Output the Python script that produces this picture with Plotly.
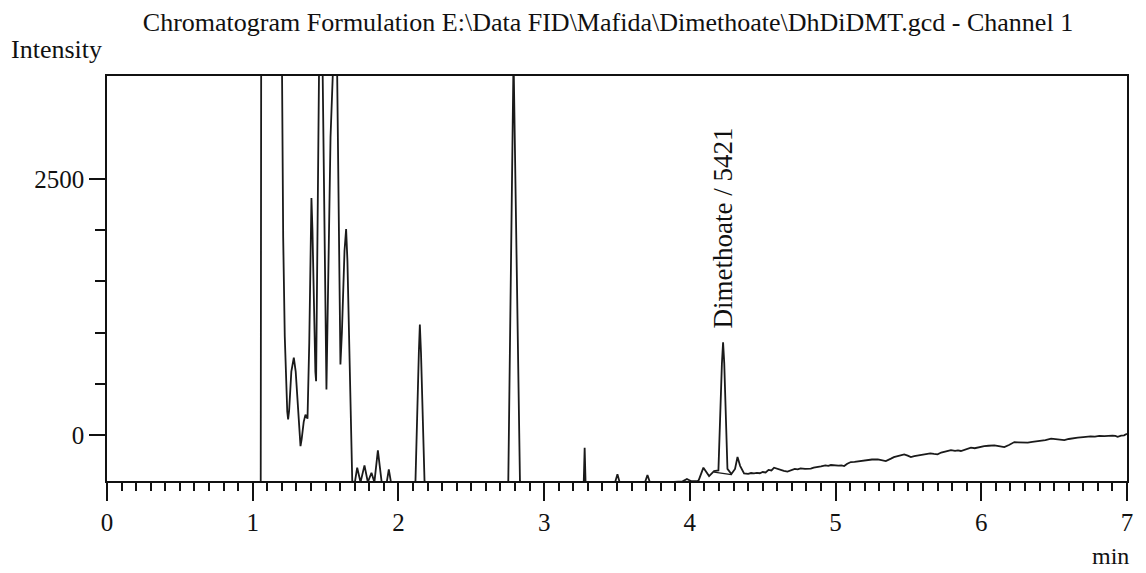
import plotly.graph_objects as go

# Retention time (min) and detector intensity of the FID trace
time_min = [
    0.00, 1.055, 1.062, 1.190, 1.198, 1.209, 1.220, 1.230, 1.237, 1.243,
    1.250, 1.265, 1.282, 1.295, 1.310, 1.320, 1.328, 1.336, 1.350, 1.362,
    1.370, 1.376, 1.388, 1.396, 1.403, 1.410, 1.422, 1.430, 1.435, 1.466,
    1.506, 1.534, 1.553, 1.568, 1.602, 1.612, 1.630, 1.641, 1.650, 1.662,
    1.675, 1.683, 1.700, 1.717, 1.740, 1.767, 1.790, 1.815, 1.835, 1.859,
    1.885, 1.920, 1.934, 1.950, 2.110, 2.117, 2.140, 2.147, 2.155, 2.179,
    2.190, 2.745, 2.754, 2.790, 2.834, 2.845, 3.266, 3.272, 3.278, 3.284,
    3.290, 3.485, 3.503, 3.520, 3.690, 3.709, 3.728, 3.950, 3.980, 4.010,
    4.050, 4.061, 4.093, 4.132, 4.166, 4.196, 4.220, 4.228, 4.236, 4.258,
    4.285, 4.310, 4.327, 4.345, 4.372, 4.400, 4.420, 4.440, 4.460, 4.480,
    4.500, 4.520, 4.540, 4.560, 4.578, 4.600, 4.620, 4.645, 4.670, 4.695,
    4.720, 4.740, 4.760, 4.790, 4.830, 4.850, 4.870, 4.900, 4.930, 4.950,
    4.968, 4.990, 5.020, 5.040, 5.059, 5.080, 5.105, 5.130, 5.160, 5.190,
    5.220, 5.250, 5.290, 5.320, 5.345, 5.380, 5.400, 5.426, 5.450, 5.471,
    5.495, 5.517, 5.540, 5.560, 5.585, 5.609, 5.630, 5.650, 5.675, 5.700,
    5.725, 5.750, 5.770, 5.792, 5.820, 5.840, 5.860, 5.895, 5.929, 5.955,
    5.980, 6.000, 6.020, 6.050, 6.090, 6.120, 6.158, 6.190, 6.227, 6.250,
    6.270, 6.295, 6.319, 6.350, 6.375, 6.400, 6.440, 6.479, 6.510, 6.540,
    6.570, 6.600, 6.630, 6.662, 6.700, 6.730, 6.750, 6.780, 6.810, 6.845,
    6.870, 6.900, 6.920, 6.936, 6.960, 6.980, 7.000,
]
intensity = [
    -470, -470, 9000, 9000, 4200, 1937, 962, 420, 230, 153,
    240, 620, 757, 620, 250, 0, -107, -40, 130, 200,
    165, 160, 900, 1900, 2314, 2000, 1100, 620, 527, 5200,
    445, 2909, 3650, 5000, 689, 1000, 1800, 2012, 1700, 900,
    0, -446, -470, -318, -460, -295, -460, -367, -460, -149,
    -460, -460, -334, -470, -470, -446, 800, 1079, 800, -446,
    -470, -470, -446, 3700, -446, -470, -470, -446, -123, -446,
    -470, -470, -383, -470, -470, -390, -470, -452, -429, -450,
    -450, -440, -318, -400, -351, -345, 700, 906, 700, -330,
    -380, -330, -214, -300, -373, -378, -370, -374, -368, -372,
    -360, -365, -340, -345, -318, -330, -342, -350, -357, -340,
    -330, -335, -325, -330, -328, -318, -310, -305, -295, -300,
    -292, -296, -298, -295, -302, -280, -263, -262, -255, -250,
    -244, -238, -236, -245, -253, -230, -215, -205, -195, -188,
    -200, -214, -205, -200, -192, -188, -185, -178, -184, -188,
    -170, -160, -152, -146, -154, -150, -155, -140, -123, -128,
    -118, -114, -107, -104, -100, -108, -117, -96, -68, -70,
    -72, -70, -74, -66, -62, -60, -48, -35, -42, -46,
    -49, -38, -30, -25, -20, -14, -12, -14, -8, -10,
    -6, -5, -8, -16, -6, -2, 14,
]

# Integration baseline drawn under the Dimethoate peak
base_time = [4.166, 4.285]
base_intensity = [-362, -385]

peak_time = 4.228
peak_label = "Dimethoate / 5421"

x_ticks = [0, 1, 2, 3, 4, 5, 6, 7]
y_ticks = [0, 2500]
y_minor = [500, 1000, 1500, 2000]

FONT = "Liberation Serif"
INK = "#111111"
TRACE = "#1a1a1a"

fig = go.Figure()
fig.add_trace(go.Scatter(
    x=time_min, y=intensity, mode="lines",
    line=dict(color=TRACE, width=1.8), showlegend=False, hoverinfo="skip",
))
fig.add_trace(go.Scatter(
    x=base_time, y=base_intensity, mode="lines",
    line=dict(color=TRACE, width=1.3), showlegend=False, hoverinfo="skip",
))

fig.add_annotation(
    x=peak_time, y=2019, xref="x", yref="y", text=peak_label,
    textangle=-90, showarrow=False, xanchor="center", yanchor="middle",
    font=dict(family=FONT, size=27, color=INK),
)
fig.add_annotation(
    x=(9 - 107) / 1020, y=(481 - 50) / 405, xref="paper", yref="paper",
    text="Intensity", showarrow=False, xanchor="left", yanchor="middle",
    font=dict(family=FONT, size=26, color=INK),
)
fig.add_annotation(
    x=(1131 - 107) / 1020, y=(481 - 556) / 405, xref="paper", yref="paper",
    text="min", showarrow=False, xanchor="right", yanchor="middle",
    font=dict(family=FONT, size=24, color=INK),
)

fig.update_layout(
    width=1146, height=573,
    margin=dict(l=107, r=19, t=76, b=92, autoexpand=False),
    paper_bgcolor="white", plot_bgcolor="white",
    title=dict(
        text="Chromatogram Formulation E:\\Data FID\\Mafida\\Dimethoate\\DhDiDMT.gcd - Channel 1",
        x=608 / 1146, y=1 - 22 / 573, xref="container", yref="container",
        xanchor="center", yanchor="middle",
        font=dict(family=FONT, size=26, color=INK),
    ),
    font=dict(family=FONT, color=INK),
)

fig.update_xaxes(
    range=[0, 7], showgrid=False, zeroline=False,
    showline=True, linecolor="#111111", linewidth=1.5, mirror=True,
    tickmode="array", tickvals=x_ticks, ticks="outside", ticklen=18,
    tickwidth=1.5, tickcolor="#111111",
    tickfont=dict(family=FONT, size=25, color=INK),
    minor=dict(dtick=0.1, tick0=0, ticks="outside", ticklen=8,
               tickwidth=1.5, tickcolor="#111111", showgrid=False),
)
fig.update_yaxes(
    range=[-448, 3506], showgrid=False, zeroline=False,
    showline=True, linecolor="#111111", linewidth=1.5, mirror=True,
    tickmode="array", tickvals=y_ticks, ticks="outside", ticklen=16,
    tickwidth=1.5, tickcolor="#111111",
    tickfont=dict(family=FONT, size=25, color=INK),
    minor=dict(tickmode="array", tickvals=y_minor, ticks="outside", ticklen=10,
               tickwidth=1.5, tickcolor="#111111", showgrid=False),
)

fig.write_html("out.html")
